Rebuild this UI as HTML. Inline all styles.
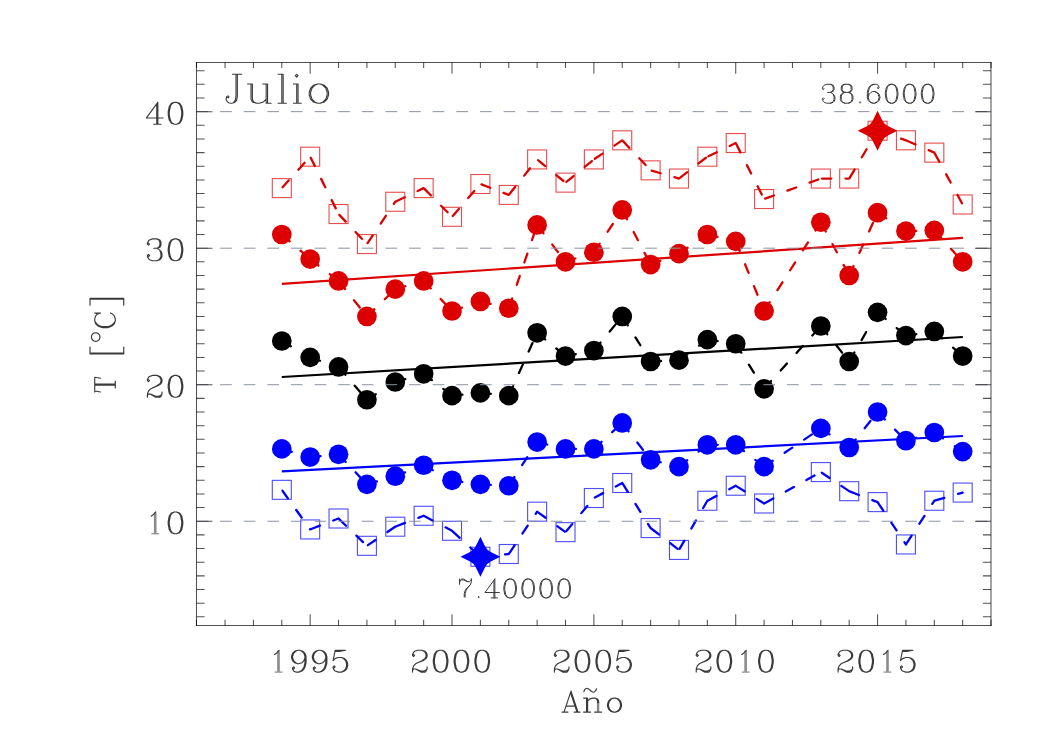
<!DOCTYPE html>
<html><head><meta charset="utf-8"><style>
html,body{margin:0;padding:0;background:#fff;width:1050px;height:750px;overflow:hidden}
svg{display:block}
text{font-family:"Liberation Serif",serif}
</style></head><body>
<svg width="1050" height="750" viewBox="0 0 1050 750">
<rect width="1050" height="750" fill="#ffffff"/>
<line x1="281.80" y1="188.10" x2="310.17" y2="156.70" stroke="#dc0000" stroke-width="2.3" stroke-linecap="round" stroke-dasharray="9.3 14.3" stroke-dashoffset="-1.15"/>
<line x1="310.17" y1="156.70" x2="338.54" y2="214.04" stroke="#dc0000" stroke-width="2.3" stroke-linecap="round" stroke-dasharray="9.3 14.3" stroke-dashoffset="-1.15"/>
<line x1="338.54" y1="214.04" x2="366.91" y2="244.08" stroke="#dc0000" stroke-width="2.3" stroke-linecap="round" stroke-dasharray="9.3 14.3" stroke-dashoffset="-1.15"/>
<line x1="366.91" y1="244.08" x2="395.28" y2="201.76" stroke="#dc0000" stroke-width="2.3" stroke-linecap="round" stroke-dasharray="9.3 14.3" stroke-dashoffset="-1.15"/>
<line x1="395.28" y1="201.76" x2="423.65" y2="188.10" stroke="#dc0000" stroke-width="2.3" stroke-linecap="round" stroke-dasharray="9.3 14.3" stroke-dashoffset="-1.15"/>
<line x1="423.65" y1="188.10" x2="452.02" y2="216.78" stroke="#dc0000" stroke-width="2.3" stroke-linecap="round" stroke-dasharray="9.3 14.3" stroke-dashoffset="-1.15"/>
<line x1="452.02" y1="216.78" x2="480.39" y2="184.01" stroke="#dc0000" stroke-width="2.3" stroke-linecap="round" stroke-dasharray="9.3 14.3" stroke-dashoffset="-1.15"/>
<line x1="480.39" y1="184.01" x2="508.76" y2="194.93" stroke="#dc0000" stroke-width="2.3" stroke-linecap="round" stroke-dasharray="9.3 14.3" stroke-dashoffset="-1.15"/>
<line x1="508.76" y1="194.93" x2="537.13" y2="159.43" stroke="#dc0000" stroke-width="2.3" stroke-linecap="round" stroke-dasharray="9.3 14.3" stroke-dashoffset="-1.15"/>
<line x1="537.13" y1="159.43" x2="565.50" y2="182.64" stroke="#dc0000" stroke-width="2.3" stroke-linecap="round" stroke-dasharray="9.3 14.3" stroke-dashoffset="-1.15"/>
<line x1="565.50" y1="182.64" x2="593.87" y2="159.43" stroke="#dc0000" stroke-width="2.3" stroke-linecap="round" stroke-dasharray="9.3 14.3" stroke-dashoffset="-1.15"/>
<line x1="593.87" y1="159.43" x2="622.24" y2="140.32" stroke="#dc0000" stroke-width="2.3" stroke-linecap="round" stroke-dasharray="9.3 14.3" stroke-dashoffset="-1.15"/>
<line x1="622.24" y1="140.32" x2="650.61" y2="170.36" stroke="#dc0000" stroke-width="2.3" stroke-linecap="round" stroke-dasharray="9.3 14.3" stroke-dashoffset="-1.15"/>
<line x1="650.61" y1="170.36" x2="678.98" y2="178.55" stroke="#dc0000" stroke-width="2.3" stroke-linecap="round" stroke-dasharray="9.3 14.3" stroke-dashoffset="-1.15"/>
<line x1="678.98" y1="178.55" x2="707.35" y2="156.70" stroke="#dc0000" stroke-width="2.3" stroke-linecap="round" stroke-dasharray="9.3 14.3" stroke-dashoffset="-1.15"/>
<line x1="707.35" y1="156.70" x2="735.72" y2="143.05" stroke="#dc0000" stroke-width="2.3" stroke-linecap="round" stroke-dasharray="9.3 14.3" stroke-dashoffset="-1.15"/>
<line x1="735.72" y1="143.05" x2="764.09" y2="199.03" stroke="#dc0000" stroke-width="2.3" stroke-linecap="round" stroke-dasharray="9.3 14.3" stroke-dashoffset="-1.15"/>
<line x1="764.09" y1="199.03" x2="820.83" y2="178.55" stroke="#dc0000" stroke-width="2.3" stroke-linecap="round" stroke-dasharray="9.3 14.3" stroke-dashoffset="-1.15"/>
<line x1="820.83" y1="178.55" x2="849.20" y2="178.55" stroke="#dc0000" stroke-width="2.3" stroke-linecap="round" stroke-dasharray="9.3 14.3" stroke-dashoffset="-1.15"/>
<line x1="849.20" y1="178.55" x2="877.57" y2="130.76" stroke="#dc0000" stroke-width="2.3" stroke-linecap="round" stroke-dasharray="9.3 14.3" stroke-dashoffset="-1.15"/>
<line x1="877.57" y1="130.76" x2="905.94" y2="140.32" stroke="#dc0000" stroke-width="2.3" stroke-linecap="round" stroke-dasharray="9.3 14.3" stroke-dashoffset="-1.15"/>
<line x1="905.94" y1="140.32" x2="934.31" y2="152.61" stroke="#dc0000" stroke-width="2.3" stroke-linecap="round" stroke-dasharray="9.3 14.3" stroke-dashoffset="-1.15"/>
<line x1="934.31" y1="152.61" x2="962.68" y2="204.49" stroke="#dc0000" stroke-width="2.3" stroke-linecap="round" stroke-dasharray="9.3 14.3" stroke-dashoffset="-1.15"/>
<rect x="272.30" y="178.60" width="19" height="19" fill="none" stroke="#dc0000" stroke-width="1.1" stroke-opacity="0.7"/>
<rect x="300.67" y="147.20" width="19" height="19" fill="none" stroke="#dc0000" stroke-width="1.1" stroke-opacity="0.7"/>
<rect x="329.04" y="204.54" width="19" height="19" fill="none" stroke="#dc0000" stroke-width="1.1" stroke-opacity="0.7"/>
<rect x="357.41" y="234.58" width="19" height="19" fill="none" stroke="#dc0000" stroke-width="1.1" stroke-opacity="0.7"/>
<rect x="385.78" y="192.26" width="19" height="19" fill="none" stroke="#dc0000" stroke-width="1.1" stroke-opacity="0.7"/>
<rect x="414.15" y="178.60" width="19" height="19" fill="none" stroke="#dc0000" stroke-width="1.1" stroke-opacity="0.7"/>
<rect x="442.52" y="207.28" width="19" height="19" fill="none" stroke="#dc0000" stroke-width="1.1" stroke-opacity="0.7"/>
<rect x="470.89" y="174.51" width="19" height="19" fill="none" stroke="#dc0000" stroke-width="1.1" stroke-opacity="0.7"/>
<rect x="499.26" y="185.43" width="19" height="19" fill="none" stroke="#dc0000" stroke-width="1.1" stroke-opacity="0.7"/>
<rect x="527.63" y="149.93" width="19" height="19" fill="none" stroke="#dc0000" stroke-width="1.1" stroke-opacity="0.7"/>
<rect x="556.00" y="173.14" width="19" height="19" fill="none" stroke="#dc0000" stroke-width="1.1" stroke-opacity="0.7"/>
<rect x="584.37" y="149.93" width="19" height="19" fill="none" stroke="#dc0000" stroke-width="1.1" stroke-opacity="0.7"/>
<rect x="612.74" y="130.82" width="19" height="19" fill="none" stroke="#dc0000" stroke-width="1.1" stroke-opacity="0.7"/>
<rect x="641.11" y="160.86" width="19" height="19" fill="none" stroke="#dc0000" stroke-width="1.1" stroke-opacity="0.7"/>
<rect x="669.48" y="169.05" width="19" height="19" fill="none" stroke="#dc0000" stroke-width="1.1" stroke-opacity="0.7"/>
<rect x="697.85" y="147.20" width="19" height="19" fill="none" stroke="#dc0000" stroke-width="1.1" stroke-opacity="0.7"/>
<rect x="726.22" y="133.55" width="19" height="19" fill="none" stroke="#dc0000" stroke-width="1.1" stroke-opacity="0.7"/>
<rect x="754.59" y="189.53" width="19" height="19" fill="none" stroke="#dc0000" stroke-width="1.1" stroke-opacity="0.7"/>
<rect x="811.33" y="169.05" width="19" height="19" fill="none" stroke="#dc0000" stroke-width="1.1" stroke-opacity="0.7"/>
<rect x="839.70" y="169.05" width="19" height="19" fill="none" stroke="#dc0000" stroke-width="1.1" stroke-opacity="0.7"/>
<rect x="868.07" y="121.26" width="19" height="19" fill="none" stroke="#dc0000" stroke-width="1.1" stroke-opacity="0.7"/>
<rect x="896.44" y="130.82" width="19" height="19" fill="none" stroke="#dc0000" stroke-width="1.1" stroke-opacity="0.7"/>
<rect x="924.81" y="143.11" width="19" height="19" fill="none" stroke="#dc0000" stroke-width="1.1" stroke-opacity="0.7"/>
<rect x="953.18" y="194.99" width="19" height="19" fill="none" stroke="#dc0000" stroke-width="1.1" stroke-opacity="0.7"/>
<line x1="281.80" y1="234.52" x2="310.17" y2="259.10" stroke="#dc0000" stroke-width="2.3" stroke-linecap="round" stroke-dasharray="9.3 14.3" stroke-dashoffset="-1.15"/>
<line x1="310.17" y1="259.10" x2="338.54" y2="280.94" stroke="#dc0000" stroke-width="2.3" stroke-linecap="round" stroke-dasharray="9.3 14.3" stroke-dashoffset="-1.15"/>
<line x1="338.54" y1="280.94" x2="366.91" y2="316.44" stroke="#dc0000" stroke-width="2.3" stroke-linecap="round" stroke-dasharray="9.3 14.3" stroke-dashoffset="-1.15"/>
<line x1="366.91" y1="316.44" x2="395.28" y2="289.14" stroke="#dc0000" stroke-width="2.3" stroke-linecap="round" stroke-dasharray="9.3 14.3" stroke-dashoffset="-1.15"/>
<line x1="395.28" y1="289.14" x2="423.65" y2="280.94" stroke="#dc0000" stroke-width="2.3" stroke-linecap="round" stroke-dasharray="9.3 14.3" stroke-dashoffset="-1.15"/>
<line x1="423.65" y1="280.94" x2="452.02" y2="310.98" stroke="#dc0000" stroke-width="2.3" stroke-linecap="round" stroke-dasharray="9.3 14.3" stroke-dashoffset="-1.15"/>
<line x1="452.02" y1="310.98" x2="480.39" y2="301.42" stroke="#dc0000" stroke-width="2.3" stroke-linecap="round" stroke-dasharray="9.3 14.3" stroke-dashoffset="-1.15"/>
<line x1="480.39" y1="301.42" x2="508.76" y2="308.25" stroke="#dc0000" stroke-width="2.3" stroke-linecap="round" stroke-dasharray="9.3 14.3" stroke-dashoffset="-1.15"/>
<line x1="508.76" y1="308.25" x2="537.13" y2="224.97" stroke="#dc0000" stroke-width="2.3" stroke-linecap="round" stroke-dasharray="9.3 14.3" stroke-dashoffset="-1.15"/>
<line x1="537.13" y1="224.97" x2="565.50" y2="261.83" stroke="#dc0000" stroke-width="2.3" stroke-linecap="round" stroke-dasharray="9.3 14.3" stroke-dashoffset="-1.15"/>
<line x1="565.50" y1="261.83" x2="593.87" y2="252.27" stroke="#dc0000" stroke-width="2.3" stroke-linecap="round" stroke-dasharray="9.3 14.3" stroke-dashoffset="-1.15"/>
<line x1="593.87" y1="252.27" x2="622.24" y2="209.95" stroke="#dc0000" stroke-width="2.3" stroke-linecap="round" stroke-dasharray="9.3 14.3" stroke-dashoffset="-1.15"/>
<line x1="622.24" y1="209.95" x2="650.61" y2="264.56" stroke="#dc0000" stroke-width="2.3" stroke-linecap="round" stroke-dasharray="9.3 14.3" stroke-dashoffset="-1.15"/>
<line x1="650.61" y1="264.56" x2="678.98" y2="253.64" stroke="#dc0000" stroke-width="2.3" stroke-linecap="round" stroke-dasharray="9.3 14.3" stroke-dashoffset="-1.15"/>
<line x1="678.98" y1="253.64" x2="707.35" y2="234.52" stroke="#dc0000" stroke-width="2.3" stroke-linecap="round" stroke-dasharray="9.3 14.3" stroke-dashoffset="-1.15"/>
<line x1="707.35" y1="234.52" x2="735.72" y2="241.35" stroke="#dc0000" stroke-width="2.3" stroke-linecap="round" stroke-dasharray="9.3 14.3" stroke-dashoffset="-1.15"/>
<line x1="735.72" y1="241.35" x2="764.09" y2="310.98" stroke="#dc0000" stroke-width="2.3" stroke-linecap="round" stroke-dasharray="9.3 14.3" stroke-dashoffset="-1.15"/>
<line x1="764.09" y1="310.98" x2="820.83" y2="222.24" stroke="#dc0000" stroke-width="2.3" stroke-linecap="round" stroke-dasharray="9.3 14.3" stroke-dashoffset="-1.15"/>
<line x1="820.83" y1="222.24" x2="849.20" y2="275.48" stroke="#dc0000" stroke-width="2.3" stroke-linecap="round" stroke-dasharray="9.3 14.3" stroke-dashoffset="-1.15"/>
<line x1="849.20" y1="275.48" x2="877.57" y2="212.68" stroke="#dc0000" stroke-width="2.3" stroke-linecap="round" stroke-dasharray="9.3 14.3" stroke-dashoffset="-1.15"/>
<line x1="877.57" y1="212.68" x2="905.94" y2="231.11" stroke="#dc0000" stroke-width="2.3" stroke-linecap="round" stroke-dasharray="9.3 14.3" stroke-dashoffset="-1.15"/>
<line x1="905.94" y1="231.11" x2="934.31" y2="230.43" stroke="#dc0000" stroke-width="2.3" stroke-linecap="round" stroke-dasharray="9.3 14.3" stroke-dashoffset="-1.15"/>
<line x1="934.31" y1="230.43" x2="962.68" y2="261.83" stroke="#dc0000" stroke-width="2.3" stroke-linecap="round" stroke-dasharray="9.3 14.3" stroke-dashoffset="-1.15"/>
<circle cx="281.80" cy="234.52" r="9.85" fill="#dc0000"/>
<circle cx="310.17" cy="259.10" r="9.85" fill="#dc0000"/>
<circle cx="338.54" cy="280.94" r="9.85" fill="#dc0000"/>
<circle cx="366.91" cy="316.44" r="9.85" fill="#dc0000"/>
<circle cx="395.28" cy="289.14" r="9.85" fill="#dc0000"/>
<circle cx="423.65" cy="280.94" r="9.85" fill="#dc0000"/>
<circle cx="452.02" cy="310.98" r="9.85" fill="#dc0000"/>
<circle cx="480.39" cy="301.42" r="9.85" fill="#dc0000"/>
<circle cx="508.76" cy="308.25" r="9.85" fill="#dc0000"/>
<circle cx="537.13" cy="224.97" r="9.85" fill="#dc0000"/>
<circle cx="565.50" cy="261.83" r="9.85" fill="#dc0000"/>
<circle cx="593.87" cy="252.27" r="9.85" fill="#dc0000"/>
<circle cx="622.24" cy="209.95" r="9.85" fill="#dc0000"/>
<circle cx="650.61" cy="264.56" r="9.85" fill="#dc0000"/>
<circle cx="678.98" cy="253.64" r="9.85" fill="#dc0000"/>
<circle cx="707.35" cy="234.52" r="9.85" fill="#dc0000"/>
<circle cx="735.72" cy="241.35" r="9.85" fill="#dc0000"/>
<circle cx="764.09" cy="310.98" r="9.85" fill="#dc0000"/>
<circle cx="820.83" cy="222.24" r="9.85" fill="#dc0000"/>
<circle cx="849.20" cy="275.48" r="9.85" fill="#dc0000"/>
<circle cx="877.57" cy="212.68" r="9.85" fill="#dc0000"/>
<circle cx="905.94" cy="231.11" r="9.85" fill="#dc0000"/>
<circle cx="934.31" cy="230.43" r="9.85" fill="#dc0000"/>
<circle cx="962.68" cy="261.83" r="9.85" fill="#dc0000"/>
<line x1="281.80" y1="341.02" x2="310.17" y2="357.40" stroke="#000000" stroke-width="2.3" stroke-linecap="round" stroke-dasharray="9.3 14.3" stroke-dashoffset="-1.15"/>
<line x1="310.17" y1="357.40" x2="338.54" y2="366.96" stroke="#000000" stroke-width="2.3" stroke-linecap="round" stroke-dasharray="9.3 14.3" stroke-dashoffset="-1.15"/>
<line x1="338.54" y1="366.96" x2="366.91" y2="399.73" stroke="#000000" stroke-width="2.3" stroke-linecap="round" stroke-dasharray="9.3 14.3" stroke-dashoffset="-1.15"/>
<line x1="366.91" y1="399.73" x2="395.28" y2="381.98" stroke="#000000" stroke-width="2.3" stroke-linecap="round" stroke-dasharray="9.3 14.3" stroke-dashoffset="-1.15"/>
<line x1="395.28" y1="381.98" x2="423.65" y2="373.78" stroke="#000000" stroke-width="2.3" stroke-linecap="round" stroke-dasharray="9.3 14.3" stroke-dashoffset="-1.15"/>
<line x1="423.65" y1="373.78" x2="452.02" y2="395.63" stroke="#000000" stroke-width="2.3" stroke-linecap="round" stroke-dasharray="9.3 14.3" stroke-dashoffset="-1.15"/>
<line x1="452.02" y1="395.63" x2="480.39" y2="392.90" stroke="#000000" stroke-width="2.3" stroke-linecap="round" stroke-dasharray="9.3 14.3" stroke-dashoffset="-1.15"/>
<line x1="480.39" y1="392.90" x2="508.76" y2="395.63" stroke="#000000" stroke-width="2.3" stroke-linecap="round" stroke-dasharray="9.3 14.3" stroke-dashoffset="-1.15"/>
<line x1="508.76" y1="395.63" x2="537.13" y2="332.83" stroke="#000000" stroke-width="2.3" stroke-linecap="round" stroke-dasharray="9.3 14.3" stroke-dashoffset="-1.15"/>
<line x1="537.13" y1="332.83" x2="565.50" y2="356.04" stroke="#000000" stroke-width="2.3" stroke-linecap="round" stroke-dasharray="9.3 14.3" stroke-dashoffset="-1.15"/>
<line x1="565.50" y1="356.04" x2="593.87" y2="350.57" stroke="#000000" stroke-width="2.3" stroke-linecap="round" stroke-dasharray="9.3 14.3" stroke-dashoffset="-1.15"/>
<line x1="593.87" y1="350.57" x2="622.24" y2="316.44" stroke="#000000" stroke-width="2.3" stroke-linecap="round" stroke-dasharray="9.3 14.3" stroke-dashoffset="-1.15"/>
<line x1="622.24" y1="316.44" x2="650.61" y2="361.50" stroke="#000000" stroke-width="2.3" stroke-linecap="round" stroke-dasharray="9.3 14.3" stroke-dashoffset="-1.15"/>
<line x1="650.61" y1="361.50" x2="678.98" y2="360.13" stroke="#000000" stroke-width="2.3" stroke-linecap="round" stroke-dasharray="9.3 14.3" stroke-dashoffset="-1.15"/>
<line x1="678.98" y1="360.13" x2="707.35" y2="339.65" stroke="#000000" stroke-width="2.3" stroke-linecap="round" stroke-dasharray="9.3 14.3" stroke-dashoffset="-1.15"/>
<line x1="707.35" y1="339.65" x2="735.72" y2="343.75" stroke="#000000" stroke-width="2.3" stroke-linecap="round" stroke-dasharray="9.3 14.3" stroke-dashoffset="-1.15"/>
<line x1="735.72" y1="343.75" x2="764.09" y2="388.80" stroke="#000000" stroke-width="2.3" stroke-linecap="round" stroke-dasharray="9.3 14.3" stroke-dashoffset="-1.15"/>
<line x1="764.09" y1="388.80" x2="820.83" y2="326.00" stroke="#000000" stroke-width="2.3" stroke-linecap="round" stroke-dasharray="9.3 14.3" stroke-dashoffset="-1.15"/>
<line x1="820.83" y1="326.00" x2="849.20" y2="361.50" stroke="#000000" stroke-width="2.3" stroke-linecap="round" stroke-dasharray="9.3 14.3" stroke-dashoffset="-1.15"/>
<line x1="849.20" y1="361.50" x2="877.57" y2="312.35" stroke="#000000" stroke-width="2.3" stroke-linecap="round" stroke-dasharray="9.3 14.3" stroke-dashoffset="-1.15"/>
<line x1="877.57" y1="312.35" x2="905.94" y2="335.56" stroke="#000000" stroke-width="2.3" stroke-linecap="round" stroke-dasharray="9.3 14.3" stroke-dashoffset="-1.15"/>
<line x1="905.94" y1="335.56" x2="934.31" y2="331.46" stroke="#000000" stroke-width="2.3" stroke-linecap="round" stroke-dasharray="9.3 14.3" stroke-dashoffset="-1.15"/>
<line x1="934.31" y1="331.46" x2="962.68" y2="356.04" stroke="#000000" stroke-width="2.3" stroke-linecap="round" stroke-dasharray="9.3 14.3" stroke-dashoffset="-1.15"/>
<circle cx="281.80" cy="341.02" r="9.85" fill="#000000"/>
<circle cx="310.17" cy="357.40" r="9.85" fill="#000000"/>
<circle cx="338.54" cy="366.96" r="9.85" fill="#000000"/>
<circle cx="366.91" cy="399.73" r="9.85" fill="#000000"/>
<circle cx="395.28" cy="381.98" r="9.85" fill="#000000"/>
<circle cx="423.65" cy="373.78" r="9.85" fill="#000000"/>
<circle cx="452.02" cy="395.63" r="9.85" fill="#000000"/>
<circle cx="480.39" cy="392.90" r="9.85" fill="#000000"/>
<circle cx="508.76" cy="395.63" r="9.85" fill="#000000"/>
<circle cx="537.13" cy="332.83" r="9.85" fill="#000000"/>
<circle cx="565.50" cy="356.04" r="9.85" fill="#000000"/>
<circle cx="593.87" cy="350.57" r="9.85" fill="#000000"/>
<circle cx="622.24" cy="316.44" r="9.85" fill="#000000"/>
<circle cx="650.61" cy="361.50" r="9.85" fill="#000000"/>
<circle cx="678.98" cy="360.13" r="9.85" fill="#000000"/>
<circle cx="707.35" cy="339.65" r="9.85" fill="#000000"/>
<circle cx="735.72" cy="343.75" r="9.85" fill="#000000"/>
<circle cx="764.09" cy="388.80" r="9.85" fill="#000000"/>
<circle cx="820.83" cy="326.00" r="9.85" fill="#000000"/>
<circle cx="849.20" cy="361.50" r="9.85" fill="#000000"/>
<circle cx="877.57" cy="312.35" r="9.85" fill="#000000"/>
<circle cx="905.94" cy="335.56" r="9.85" fill="#000000"/>
<circle cx="934.31" cy="331.46" r="9.85" fill="#000000"/>
<circle cx="962.68" cy="356.04" r="9.85" fill="#000000"/>
<line x1="281.80" y1="448.88" x2="310.17" y2="457.07" stroke="#0000ff" stroke-width="2.3" stroke-linecap="round" stroke-dasharray="9.3 14.3" stroke-dashoffset="-1.15"/>
<line x1="310.17" y1="457.07" x2="338.54" y2="454.34" stroke="#0000ff" stroke-width="2.3" stroke-linecap="round" stroke-dasharray="9.3 14.3" stroke-dashoffset="-1.15"/>
<line x1="338.54" y1="454.34" x2="366.91" y2="484.37" stroke="#0000ff" stroke-width="2.3" stroke-linecap="round" stroke-dasharray="9.3 14.3" stroke-dashoffset="-1.15"/>
<line x1="366.91" y1="484.37" x2="395.28" y2="476.18" stroke="#0000ff" stroke-width="2.3" stroke-linecap="round" stroke-dasharray="9.3 14.3" stroke-dashoffset="-1.15"/>
<line x1="395.28" y1="476.18" x2="423.65" y2="465.26" stroke="#0000ff" stroke-width="2.3" stroke-linecap="round" stroke-dasharray="9.3 14.3" stroke-dashoffset="-1.15"/>
<line x1="423.65" y1="465.26" x2="452.02" y2="480.28" stroke="#0000ff" stroke-width="2.3" stroke-linecap="round" stroke-dasharray="9.3 14.3" stroke-dashoffset="-1.15"/>
<line x1="452.02" y1="480.28" x2="480.39" y2="484.37" stroke="#0000ff" stroke-width="2.3" stroke-linecap="round" stroke-dasharray="9.3 14.3" stroke-dashoffset="-1.15"/>
<line x1="480.39" y1="484.37" x2="508.76" y2="485.74" stroke="#0000ff" stroke-width="2.3" stroke-linecap="round" stroke-dasharray="9.3 14.3" stroke-dashoffset="-1.15"/>
<line x1="508.76" y1="485.74" x2="537.13" y2="442.05" stroke="#0000ff" stroke-width="2.3" stroke-linecap="round" stroke-dasharray="9.3 14.3" stroke-dashoffset="-1.15"/>
<line x1="537.13" y1="442.05" x2="565.50" y2="448.88" stroke="#0000ff" stroke-width="2.3" stroke-linecap="round" stroke-dasharray="9.3 14.3" stroke-dashoffset="-1.15"/>
<line x1="565.50" y1="448.88" x2="593.87" y2="448.88" stroke="#0000ff" stroke-width="2.3" stroke-linecap="round" stroke-dasharray="9.3 14.3" stroke-dashoffset="-1.15"/>
<line x1="593.87" y1="448.88" x2="622.24" y2="422.94" stroke="#0000ff" stroke-width="2.3" stroke-linecap="round" stroke-dasharray="9.3 14.3" stroke-dashoffset="-1.15"/>
<line x1="622.24" y1="422.94" x2="650.61" y2="459.80" stroke="#0000ff" stroke-width="2.3" stroke-linecap="round" stroke-dasharray="9.3 14.3" stroke-dashoffset="-1.15"/>
<line x1="650.61" y1="459.80" x2="678.98" y2="466.63" stroke="#0000ff" stroke-width="2.3" stroke-linecap="round" stroke-dasharray="9.3 14.3" stroke-dashoffset="-1.15"/>
<line x1="678.98" y1="466.63" x2="707.35" y2="444.78" stroke="#0000ff" stroke-width="2.3" stroke-linecap="round" stroke-dasharray="9.3 14.3" stroke-dashoffset="-1.15"/>
<line x1="707.35" y1="444.78" x2="735.72" y2="444.78" stroke="#0000ff" stroke-width="2.3" stroke-linecap="round" stroke-dasharray="9.3 14.3" stroke-dashoffset="-1.15"/>
<line x1="735.72" y1="444.78" x2="764.09" y2="466.63" stroke="#0000ff" stroke-width="2.3" stroke-linecap="round" stroke-dasharray="9.3 14.3" stroke-dashoffset="-1.15"/>
<line x1="764.09" y1="466.63" x2="820.83" y2="428.40" stroke="#0000ff" stroke-width="2.3" stroke-linecap="round" stroke-dasharray="9.3 14.3" stroke-dashoffset="-1.15"/>
<line x1="820.83" y1="428.40" x2="849.20" y2="447.51" stroke="#0000ff" stroke-width="2.3" stroke-linecap="round" stroke-dasharray="9.3 14.3" stroke-dashoffset="-1.15"/>
<line x1="849.20" y1="447.51" x2="877.57" y2="412.01" stroke="#0000ff" stroke-width="2.3" stroke-linecap="round" stroke-dasharray="9.3 14.3" stroke-dashoffset="-1.15"/>
<line x1="877.57" y1="412.01" x2="905.94" y2="440.68" stroke="#0000ff" stroke-width="2.3" stroke-linecap="round" stroke-dasharray="9.3 14.3" stroke-dashoffset="-1.15"/>
<line x1="905.94" y1="440.68" x2="934.31" y2="432.49" stroke="#0000ff" stroke-width="2.3" stroke-linecap="round" stroke-dasharray="9.3 14.3" stroke-dashoffset="-1.15"/>
<line x1="934.31" y1="432.49" x2="962.68" y2="451.61" stroke="#0000ff" stroke-width="2.3" stroke-linecap="round" stroke-dasharray="9.3 14.3" stroke-dashoffset="-1.15"/>
<circle cx="281.80" cy="448.88" r="9.85" fill="#0000ff"/>
<circle cx="310.17" cy="457.07" r="9.85" fill="#0000ff"/>
<circle cx="338.54" cy="454.34" r="9.85" fill="#0000ff"/>
<circle cx="366.91" cy="484.37" r="9.85" fill="#0000ff"/>
<circle cx="395.28" cy="476.18" r="9.85" fill="#0000ff"/>
<circle cx="423.65" cy="465.26" r="9.85" fill="#0000ff"/>
<circle cx="452.02" cy="480.28" r="9.85" fill="#0000ff"/>
<circle cx="480.39" cy="484.37" r="9.85" fill="#0000ff"/>
<circle cx="508.76" cy="485.74" r="9.85" fill="#0000ff"/>
<circle cx="537.13" cy="442.05" r="9.85" fill="#0000ff"/>
<circle cx="565.50" cy="448.88" r="9.85" fill="#0000ff"/>
<circle cx="593.87" cy="448.88" r="9.85" fill="#0000ff"/>
<circle cx="622.24" cy="422.94" r="9.85" fill="#0000ff"/>
<circle cx="650.61" cy="459.80" r="9.85" fill="#0000ff"/>
<circle cx="678.98" cy="466.63" r="9.85" fill="#0000ff"/>
<circle cx="707.35" cy="444.78" r="9.85" fill="#0000ff"/>
<circle cx="735.72" cy="444.78" r="9.85" fill="#0000ff"/>
<circle cx="764.09" cy="466.63" r="9.85" fill="#0000ff"/>
<circle cx="820.83" cy="428.40" r="9.85" fill="#0000ff"/>
<circle cx="849.20" cy="447.51" r="9.85" fill="#0000ff"/>
<circle cx="877.57" cy="412.01" r="9.85" fill="#0000ff"/>
<circle cx="905.94" cy="440.68" r="9.85" fill="#0000ff"/>
<circle cx="934.31" cy="432.49" r="9.85" fill="#0000ff"/>
<circle cx="962.68" cy="451.61" r="9.85" fill="#0000ff"/>
<line x1="281.80" y1="489.84" x2="310.17" y2="529.43" stroke="#0000ff" stroke-width="2.3" stroke-linecap="round" stroke-dasharray="9.3 14.3" stroke-dashoffset="-1.15"/>
<line x1="310.17" y1="529.43" x2="338.54" y2="518.51" stroke="#0000ff" stroke-width="2.3" stroke-linecap="round" stroke-dasharray="9.3 14.3" stroke-dashoffset="-1.15"/>
<line x1="338.54" y1="518.51" x2="366.91" y2="545.81" stroke="#0000ff" stroke-width="2.3" stroke-linecap="round" stroke-dasharray="9.3 14.3" stroke-dashoffset="-1.15"/>
<line x1="366.91" y1="545.81" x2="395.28" y2="526.70" stroke="#0000ff" stroke-width="2.3" stroke-linecap="round" stroke-dasharray="9.3 14.3" stroke-dashoffset="-1.15"/>
<line x1="395.28" y1="526.70" x2="423.65" y2="515.78" stroke="#0000ff" stroke-width="2.3" stroke-linecap="round" stroke-dasharray="9.3 14.3" stroke-dashoffset="-1.15"/>
<line x1="423.65" y1="515.78" x2="452.02" y2="530.79" stroke="#0000ff" stroke-width="2.3" stroke-linecap="round" stroke-dasharray="9.3 14.3" stroke-dashoffset="-1.15"/>
<line x1="452.02" y1="530.79" x2="480.39" y2="556.74" stroke="#0000ff" stroke-width="2.3" stroke-linecap="round" stroke-dasharray="9.3 14.3" stroke-dashoffset="-1.15"/>
<line x1="480.39" y1="556.74" x2="508.76" y2="554.00" stroke="#0000ff" stroke-width="2.3" stroke-linecap="round" stroke-dasharray="9.3 14.3" stroke-dashoffset="-1.15"/>
<line x1="508.76" y1="554.00" x2="537.13" y2="511.68" stroke="#0000ff" stroke-width="2.3" stroke-linecap="round" stroke-dasharray="9.3 14.3" stroke-dashoffset="-1.15"/>
<line x1="537.13" y1="511.68" x2="565.50" y2="532.16" stroke="#0000ff" stroke-width="2.3" stroke-linecap="round" stroke-dasharray="9.3 14.3" stroke-dashoffset="-1.15"/>
<line x1="565.50" y1="532.16" x2="593.87" y2="498.03" stroke="#0000ff" stroke-width="2.3" stroke-linecap="round" stroke-dasharray="9.3 14.3" stroke-dashoffset="-1.15"/>
<line x1="593.87" y1="498.03" x2="622.24" y2="483.01" stroke="#0000ff" stroke-width="2.3" stroke-linecap="round" stroke-dasharray="9.3 14.3" stroke-dashoffset="-1.15"/>
<line x1="622.24" y1="483.01" x2="650.61" y2="528.06" stroke="#0000ff" stroke-width="2.3" stroke-linecap="round" stroke-dasharray="9.3 14.3" stroke-dashoffset="-1.15"/>
<line x1="650.61" y1="528.06" x2="678.98" y2="549.91" stroke="#0000ff" stroke-width="2.3" stroke-linecap="round" stroke-dasharray="9.3 14.3" stroke-dashoffset="-1.15"/>
<line x1="678.98" y1="549.91" x2="707.35" y2="500.76" stroke="#0000ff" stroke-width="2.3" stroke-linecap="round" stroke-dasharray="9.3 14.3" stroke-dashoffset="-1.15"/>
<line x1="707.35" y1="500.76" x2="735.72" y2="485.74" stroke="#0000ff" stroke-width="2.3" stroke-linecap="round" stroke-dasharray="9.3 14.3" stroke-dashoffset="-1.15"/>
<line x1="735.72" y1="485.74" x2="764.09" y2="503.49" stroke="#0000ff" stroke-width="2.3" stroke-linecap="round" stroke-dasharray="9.3 14.3" stroke-dashoffset="-1.15"/>
<line x1="764.09" y1="503.49" x2="820.83" y2="472.09" stroke="#0000ff" stroke-width="2.3" stroke-linecap="round" stroke-dasharray="9.3 14.3" stroke-dashoffset="-1.15"/>
<line x1="820.83" y1="472.09" x2="849.20" y2="491.20" stroke="#0000ff" stroke-width="2.3" stroke-linecap="round" stroke-dasharray="9.3 14.3" stroke-dashoffset="-1.15"/>
<line x1="849.20" y1="491.20" x2="877.57" y2="502.12" stroke="#0000ff" stroke-width="2.3" stroke-linecap="round" stroke-dasharray="9.3 14.3" stroke-dashoffset="-1.15"/>
<line x1="877.57" y1="502.12" x2="905.94" y2="544.45" stroke="#0000ff" stroke-width="2.3" stroke-linecap="round" stroke-dasharray="9.3 14.3" stroke-dashoffset="-1.15"/>
<line x1="905.94" y1="544.45" x2="934.31" y2="500.76" stroke="#0000ff" stroke-width="2.3" stroke-linecap="round" stroke-dasharray="9.3 14.3" stroke-dashoffset="-1.15"/>
<line x1="934.31" y1="500.76" x2="962.68" y2="492.57" stroke="#0000ff" stroke-width="2.3" stroke-linecap="round" stroke-dasharray="9.3 14.3" stroke-dashoffset="-1.15"/>
<rect x="272.30" y="480.34" width="19" height="19" fill="none" stroke="#0000ff" stroke-width="1.1" stroke-opacity="0.7"/>
<rect x="300.67" y="519.93" width="19" height="19" fill="none" stroke="#0000ff" stroke-width="1.1" stroke-opacity="0.7"/>
<rect x="329.04" y="509.01" width="19" height="19" fill="none" stroke="#0000ff" stroke-width="1.1" stroke-opacity="0.7"/>
<rect x="357.41" y="536.31" width="19" height="19" fill="none" stroke="#0000ff" stroke-width="1.1" stroke-opacity="0.7"/>
<rect x="385.78" y="517.20" width="19" height="19" fill="none" stroke="#0000ff" stroke-width="1.1" stroke-opacity="0.7"/>
<rect x="414.15" y="506.28" width="19" height="19" fill="none" stroke="#0000ff" stroke-width="1.1" stroke-opacity="0.7"/>
<rect x="442.52" y="521.29" width="19" height="19" fill="none" stroke="#0000ff" stroke-width="1.1" stroke-opacity="0.7"/>
<rect x="470.89" y="547.24" width="19" height="19" fill="none" stroke="#0000ff" stroke-width="1.1" stroke-opacity="0.7"/>
<rect x="499.26" y="544.50" width="19" height="19" fill="none" stroke="#0000ff" stroke-width="1.1" stroke-opacity="0.7"/>
<rect x="527.63" y="502.18" width="19" height="19" fill="none" stroke="#0000ff" stroke-width="1.1" stroke-opacity="0.7"/>
<rect x="556.00" y="522.66" width="19" height="19" fill="none" stroke="#0000ff" stroke-width="1.1" stroke-opacity="0.7"/>
<rect x="584.37" y="488.53" width="19" height="19" fill="none" stroke="#0000ff" stroke-width="1.1" stroke-opacity="0.7"/>
<rect x="612.74" y="473.51" width="19" height="19" fill="none" stroke="#0000ff" stroke-width="1.1" stroke-opacity="0.7"/>
<rect x="641.11" y="518.56" width="19" height="19" fill="none" stroke="#0000ff" stroke-width="1.1" stroke-opacity="0.7"/>
<rect x="669.48" y="540.41" width="19" height="19" fill="none" stroke="#0000ff" stroke-width="1.1" stroke-opacity="0.7"/>
<rect x="697.85" y="491.26" width="19" height="19" fill="none" stroke="#0000ff" stroke-width="1.1" stroke-opacity="0.7"/>
<rect x="726.22" y="476.24" width="19" height="19" fill="none" stroke="#0000ff" stroke-width="1.1" stroke-opacity="0.7"/>
<rect x="754.59" y="493.99" width="19" height="19" fill="none" stroke="#0000ff" stroke-width="1.1" stroke-opacity="0.7"/>
<rect x="811.33" y="462.59" width="19" height="19" fill="none" stroke="#0000ff" stroke-width="1.1" stroke-opacity="0.7"/>
<rect x="839.70" y="481.70" width="19" height="19" fill="none" stroke="#0000ff" stroke-width="1.1" stroke-opacity="0.7"/>
<rect x="868.07" y="492.62" width="19" height="19" fill="none" stroke="#0000ff" stroke-width="1.1" stroke-opacity="0.7"/>
<rect x="896.44" y="534.95" width="19" height="19" fill="none" stroke="#0000ff" stroke-width="1.1" stroke-opacity="0.7"/>
<rect x="924.81" y="491.26" width="19" height="19" fill="none" stroke="#0000ff" stroke-width="1.1" stroke-opacity="0.7"/>
<rect x="953.18" y="483.07" width="19" height="19" fill="none" stroke="#0000ff" stroke-width="1.1" stroke-opacity="0.7"/>
<line x1="281.80" y1="283.9" x2="962.88" y2="237.9" stroke="#dc0000" stroke-width="2.2"/>
<line x1="281.80" y1="377.0" x2="962.88" y2="337.0" stroke="#000000" stroke-width="2.2"/>
<line x1="281.80" y1="471.4" x2="962.88" y2="436.0" stroke="#0000ff" stroke-width="2.2"/>
<path d="M877.57 110.86L882.36 120.40Q884.22 124.11 887.93 125.98L897.47 130.76L887.93 135.55Q884.22 137.41 882.36 141.12L877.57 150.66L872.78 141.12Q870.92 137.41 867.21 135.55L857.67 130.76L867.21 125.98Q870.92 124.11 872.78 120.40L877.57 110.86Z" fill="#dc0000"/>
<path d="M480.39 536.84L485.18 546.38Q487.04 550.09 490.75 551.95L500.29 556.74L490.75 561.52Q487.04 563.38 485.18 567.09L480.39 576.63L475.60 567.09Q473.74 563.38 470.03 561.52L460.49 556.74L470.03 551.95Q473.74 550.09 475.60 546.38L480.39 536.84Z" fill="#0000ff"/>
<line x1="196.5" y1="521.24" x2="991.0" y2="521.24" stroke="#8a93a2" stroke-width="1" stroke-dasharray="11.7 11.92"/>
<line x1="196.5" y1="384.71" x2="991.0" y2="384.71" stroke="#8a93a2" stroke-width="1" stroke-dasharray="11.7 11.92"/>
<line x1="196.5" y1="248.18" x2="991.0" y2="248.18" stroke="#8a93a2" stroke-width="1" stroke-dasharray="11.7 11.92"/>
<line x1="196.5" y1="111.65" x2="991.0" y2="111.65" stroke="#8a93a2" stroke-width="1" stroke-dasharray="11.7 11.92"/>
<path d="M196.5 616.81h8.1M991.0 616.81h-8.1M196.5 603.16h8.1M991.0 603.16h-8.1M196.5 589.50h8.1M991.0 589.50h-8.1M196.5 575.85h8.1M991.0 575.85h-8.1M196.5 562.20h8.1M991.0 562.20h-8.1M196.5 548.54h8.1M991.0 548.54h-8.1M196.5 534.89h8.1M991.0 534.89h-8.1M196.5 521.24h15.9M991.0 521.24h-15.9M196.5 507.58h8.1M991.0 507.58h-8.1M196.5 493.93h8.1M991.0 493.93h-8.1M196.5 480.28h8.1M991.0 480.28h-8.1M196.5 466.63h8.1M991.0 466.63h-8.1M196.5 452.97h8.1M991.0 452.97h-8.1M196.5 439.32h8.1M991.0 439.32h-8.1M196.5 425.67h8.1M991.0 425.67h-8.1M196.5 412.01h8.1M991.0 412.01h-8.1M196.5 398.36h8.1M991.0 398.36h-8.1M196.5 384.71h15.9M991.0 384.71h-15.9M196.5 371.05h8.1M991.0 371.05h-8.1M196.5 357.40h8.1M991.0 357.40h-8.1M196.5 343.75h8.1M991.0 343.75h-8.1M196.5 330.10h8.1M991.0 330.10h-8.1M196.5 316.44h8.1M991.0 316.44h-8.1M196.5 302.79h8.1M991.0 302.79h-8.1M196.5 289.14h8.1M991.0 289.14h-8.1M196.5 275.48h8.1M991.0 275.48h-8.1M196.5 261.83h8.1M991.0 261.83h-8.1M196.5 248.18h15.9M991.0 248.18h-15.9M196.5 234.52h8.1M991.0 234.52h-8.1M196.5 220.87h8.1M991.0 220.87h-8.1M196.5 207.22h8.1M991.0 207.22h-8.1M196.5 193.57h8.1M991.0 193.57h-8.1M196.5 179.91h8.1M991.0 179.91h-8.1M196.5 166.26h8.1M991.0 166.26h-8.1M196.5 152.61h8.1M991.0 152.61h-8.1M196.5 138.95h8.1M991.0 138.95h-8.1M196.5 125.30h8.1M991.0 125.30h-8.1M196.5 111.65h15.9M991.0 111.65h-15.9M196.5 97.99h8.1M991.0 97.99h-8.1M196.5 84.34h8.1M991.0 84.34h-8.1M196.5 70.69h8.1M991.0 70.69h-8.1M225.06 625.4v-5.6M225.06 62.5v5.6M253.43 625.4v-5.6M253.43 62.5v5.6M281.80 625.4v-5.6M281.80 62.5v5.6M310.17 625.4v-11.2M310.17 62.5v11.2M338.54 625.4v-5.6M338.54 62.5v5.6M366.91 625.4v-5.6M366.91 62.5v5.6M395.28 625.4v-5.6M395.28 62.5v5.6M423.65 625.4v-5.6M423.65 62.5v5.6M452.02 625.4v-11.2M452.02 62.5v11.2M480.39 625.4v-5.6M480.39 62.5v5.6M508.76 625.4v-5.6M508.76 62.5v5.6M537.13 625.4v-5.6M537.13 62.5v5.6M565.50 625.4v-5.6M565.50 62.5v5.6M593.87 625.4v-11.2M593.87 62.5v11.2M622.24 625.4v-5.6M622.24 62.5v5.6M650.61 625.4v-5.6M650.61 62.5v5.6M678.98 625.4v-5.6M678.98 62.5v5.6M707.35 625.4v-5.6M707.35 62.5v5.6M735.72 625.4v-11.2M735.72 62.5v11.2M764.09 625.4v-5.6M764.09 62.5v5.6M792.46 625.4v-5.6M792.46 62.5v5.6M820.83 625.4v-5.6M820.83 62.5v5.6M849.20 625.4v-5.6M849.20 62.5v5.6M877.57 625.4v-11.2M877.57 62.5v11.2M905.94 625.4v-5.6M905.94 62.5v5.6M934.31 625.4v-5.6M934.31 62.5v5.6M962.68 625.4v-5.6M962.68 62.5v5.6" stroke="#000" stroke-opacity="0.68" stroke-width="1.05" fill="none"/>
<path d="M196.5 625.4v-5.6M196.5 62.5v5.6" stroke="#000" stroke-opacity="0.68" stroke-width="1.05" fill="none"/>
<path d="M991.0 625.4v-5.6M991.0 62.5v5.6" stroke="#000" stroke-opacity="0.68" stroke-width="1.05" fill="none"/>
<path d="M196.0 62.5H991.5" stroke="#000" stroke-opacity="0.68" stroke-width="1.05" fill="none"/>
<path d="M196.0 625.4H991.5" stroke="#000" stroke-opacity="0.68" stroke-width="1.05" fill="none"/>
<path d="M196.5 62.0V625.9" stroke="#000" stroke-opacity="0.68" stroke-width="1.05" fill="none"/>
<path d="M991.0 62.0V625.9" stroke="#000" stroke-opacity="0.68" stroke-width="1.05" fill="none"/>
<path d="M156.78 104.44L156.78 124.20M157.82 102.36L157.82 124.20M157.82 102.36L146.38 117.96L163.02 117.96M153.66 124.20L160.94 124.20M174.46 102.36L171.34 103.40L169.26 106.52L168.22 111.72L168.22 114.84L169.26 120.04L171.34 123.16L174.46 124.20L176.54 124.20L179.66 123.16L181.74 120.04L182.78 114.84L182.78 111.72L181.74 106.52L179.66 103.40L176.54 102.36L174.46 102.36M174.46 102.36L172.38 103.40L171.34 104.44L170.30 106.52L169.26 111.72L169.26 114.84L170.30 120.04L171.34 122.12L172.38 123.16L174.46 124.20M176.54 124.20L178.62 123.16L179.66 122.12L180.70 120.04L181.74 114.84L181.74 111.72L180.70 106.52L179.66 104.44L178.62 103.40L176.54 102.36" fill="none" stroke="#3a3a3a" stroke-width="1.15" stroke-linecap="round" stroke-linejoin="round"/>
<path d="M148.46 243.05L149.50 244.09L148.46 245.13L147.42 244.09L147.42 243.05L148.46 240.97L149.50 239.93L152.62 238.89L156.78 238.89L159.90 239.93L160.94 242.01L160.94 245.13L159.90 247.21L156.78 248.25L153.66 248.25M156.78 238.89L158.86 239.93L159.90 242.01L159.90 245.13L158.86 247.21L156.78 248.25M156.78 248.25L158.86 249.29L160.94 251.37L161.98 253.45L161.98 256.57L160.94 258.65L159.90 259.69L156.78 260.73L152.62 260.73L149.50 259.69L148.46 258.65L147.42 256.57L147.42 255.53L148.46 254.49L149.50 255.53L148.46 256.57M159.90 250.33L160.94 253.45L160.94 256.57L159.90 258.65L158.86 259.69L156.78 260.73M174.46 238.89L171.34 239.93L169.26 243.05L168.22 248.25L168.22 251.37L169.26 256.57L171.34 259.69L174.46 260.73L176.54 260.73L179.66 259.69L181.74 256.57L182.78 251.37L182.78 248.25L181.74 243.05L179.66 239.93L176.54 238.89L174.46 238.89M174.46 238.89L172.38 239.93L171.34 240.97L170.30 243.05L169.26 248.25L169.26 251.37L170.30 256.57L171.34 258.65L172.38 259.69L174.46 260.73M176.54 260.73L178.62 259.69L179.66 258.65L180.70 256.57L181.74 251.37L181.74 248.25L180.70 243.05L179.66 240.97L178.62 239.93L176.54 238.89" fill="none" stroke="#3a3a3a" stroke-width="1.15" stroke-linecap="round" stroke-linejoin="round"/>
<path d="M148.46 379.58L149.50 380.62L148.46 381.66L147.42 380.62L147.42 379.58L148.46 377.50L149.50 376.46L152.62 375.42L156.78 375.42L159.90 376.46L160.94 377.50L161.98 379.58L161.98 381.66L160.94 383.74L157.82 385.82L152.62 387.90L150.54 388.94L148.46 391.02L147.42 394.14L147.42 397.26M156.78 375.42L158.86 376.46L159.90 377.50L160.94 379.58L160.94 381.66L159.90 383.74L156.78 385.82L152.62 387.90M147.42 395.18L148.46 394.14L150.54 394.14L155.74 396.22L158.86 396.22L160.94 395.18L161.98 394.14M150.54 394.14L155.74 397.26L159.90 397.26L160.94 396.22L161.98 394.14L161.98 392.06M174.46 375.42L171.34 376.46L169.26 379.58L168.22 384.78L168.22 387.90L169.26 393.10L171.34 396.22L174.46 397.26L176.54 397.26L179.66 396.22L181.74 393.10L182.78 387.90L182.78 384.78L181.74 379.58L179.66 376.46L176.54 375.42L174.46 375.42M174.46 375.42L172.38 376.46L171.34 377.50L170.30 379.58L169.26 384.78L169.26 387.90L170.30 393.10L171.34 395.18L172.38 396.22L174.46 397.26M176.54 397.26L178.62 396.22L179.66 395.18L180.70 393.10L181.74 387.90L181.74 384.78L180.70 379.58L179.66 377.50L178.62 376.46L176.54 375.42" fill="none" stroke="#3a3a3a" stroke-width="1.15" stroke-linecap="round" stroke-linejoin="round"/>
<path d="M155.22 512.36L155.22 533.58" fill="none" stroke="#8a8a8a" stroke-width="2.60" stroke-linecap="butt"/>
<path d="M151.32 533.79L159.12 533.79" fill="none" stroke="#8e8e8e" stroke-width="1.25" stroke-linecap="butt"/>
<path d="M151.27 516.11L153.24 514.86L155.74 511.95M174.46 511.95L171.34 512.99L169.26 516.11L168.22 521.31L168.22 524.43L169.26 529.63L171.34 532.75L174.46 533.79L176.54 533.79L179.66 532.75L181.74 529.63L182.78 524.43L182.78 521.31L181.74 516.11L179.66 512.99L176.54 511.95L174.46 511.95M174.46 511.95L172.38 512.99L171.34 514.03L170.30 516.11L169.26 521.31L169.26 524.43L170.30 529.63L171.34 531.71L172.38 532.75L174.46 533.79M176.54 533.79L178.62 532.75L179.66 531.71L180.70 529.63L181.74 524.43L181.74 521.31L180.70 516.11L179.66 514.03L178.62 512.99L176.54 511.95" fill="none" stroke="#3a3a3a" stroke-width="1.15" stroke-linecap="round" stroke-linejoin="round"/>
<path d="M278.49 650.68L278.49 671.89" fill="none" stroke="#8a8a8a" stroke-width="2.60" stroke-linecap="butt"/>
<path d="M274.59 672.10L282.39 672.10" fill="none" stroke="#8e8e8e" stroke-width="1.25" stroke-linecap="butt"/>
<path d="M274.54 654.42L276.51 653.17L279.01 650.26M305.01 657.54L303.97 660.66L301.89 662.74L298.77 663.78L297.73 663.78L294.61 662.74L292.53 660.66L291.49 657.54L291.49 656.50L292.53 653.38L294.61 651.30L297.73 650.26L299.81 650.26L302.93 651.30L305.01 653.38L306.05 656.50L306.05 662.74L305.01 666.90L303.97 668.98L301.89 671.06L298.77 672.10L295.65 672.10L293.57 671.06L292.53 668.98L292.53 667.94L293.57 666.90L294.61 667.94L293.57 668.98M297.73 663.78L295.65 662.74L293.57 660.66L292.53 657.54L292.53 656.50L293.57 653.38L295.65 651.30L297.73 650.26M299.81 650.26L301.89 651.30L303.97 653.38L305.01 656.50L305.01 662.74L303.97 666.90L302.93 668.98L300.85 671.06L298.77 672.10M325.81 657.54L324.77 660.66L322.69 662.74L319.57 663.78L318.53 663.78L315.41 662.74L313.33 660.66L312.29 657.54L312.29 656.50L313.33 653.38L315.41 651.30L318.53 650.26L320.61 650.26L323.73 651.30L325.81 653.38L326.85 656.50L326.85 662.74L325.81 666.90L324.77 668.98L322.69 671.06L319.57 672.10L316.45 672.10L314.37 671.06L313.33 668.98L313.33 667.94L314.37 666.90L315.41 667.94L314.37 668.98M318.53 663.78L316.45 662.74L314.37 660.66L313.33 657.54L313.33 656.50L314.37 653.38L316.45 651.30L318.53 650.26M320.61 650.26L322.69 651.30L324.77 653.38L325.81 656.50L325.81 662.74L324.77 666.90L323.73 668.98L321.65 671.06L319.57 672.10M335.17 650.26L333.09 660.66L335.17 658.58L338.29 657.54L341.41 657.54L344.53 658.58L346.61 660.66L347.65 663.78L347.65 665.86L346.61 668.98L344.53 671.06L341.41 672.10L338.29 672.10L335.17 671.06L334.13 670.02L333.09 667.94L333.09 666.90L334.13 665.86L335.17 666.90L334.13 667.94M341.41 657.54L343.49 658.58L345.57 660.66L346.61 663.78L346.61 665.86L345.57 668.98L343.49 671.06L341.41 672.10M335.17 650.26L345.57 650.26M335.17 651.30L340.37 651.30L345.57 650.26" fill="none" stroke="#3a3a3a" stroke-width="1.15" stroke-linecap="round" stroke-linejoin="round"/>
<path d="M413.58 654.42L414.62 655.46L413.58 656.50L412.54 655.46L412.54 654.42L413.58 652.34L414.62 651.30L417.74 650.26L421.90 650.26L425.02 651.30L426.06 652.34L427.10 654.42L427.10 656.50L426.06 658.58L422.94 660.66L417.74 662.74L415.66 663.78L413.58 665.86L412.54 668.98L412.54 672.10M421.90 650.26L423.98 651.30L425.02 652.34L426.06 654.42L426.06 656.50L425.02 658.58L421.90 660.66L417.74 662.74M412.54 670.02L413.58 668.98L415.66 668.98L420.86 671.06L423.98 671.06L426.06 670.02L427.10 668.98M415.66 668.98L420.86 672.10L425.02 672.10L426.06 671.06L427.10 668.98L427.10 666.90M439.58 650.26L436.46 651.30L434.38 654.42L433.34 659.62L433.34 662.74L434.38 667.94L436.46 671.06L439.58 672.10L441.66 672.10L444.78 671.06L446.86 667.94L447.90 662.74L447.90 659.62L446.86 654.42L444.78 651.30L441.66 650.26L439.58 650.26M439.58 650.26L437.50 651.30L436.46 652.34L435.42 654.42L434.38 659.62L434.38 662.74L435.42 667.94L436.46 670.02L437.50 671.06L439.58 672.10M441.66 672.10L443.74 671.06L444.78 670.02L445.82 667.94L446.86 662.74L446.86 659.62L445.82 654.42L444.78 652.34L443.74 651.30L441.66 650.26M460.38 650.26L457.26 651.30L455.18 654.42L454.14 659.62L454.14 662.74L455.18 667.94L457.26 671.06L460.38 672.10L462.46 672.10L465.58 671.06L467.66 667.94L468.70 662.74L468.70 659.62L467.66 654.42L465.58 651.30L462.46 650.26L460.38 650.26M460.38 650.26L458.30 651.30L457.26 652.34L456.22 654.42L455.18 659.62L455.18 662.74L456.22 667.94L457.26 670.02L458.30 671.06L460.38 672.10M462.46 672.10L464.54 671.06L465.58 670.02L466.62 667.94L467.66 662.74L467.66 659.62L466.62 654.42L465.58 652.34L464.54 651.30L462.46 650.26M481.18 650.26L478.06 651.30L475.98 654.42L474.94 659.62L474.94 662.74L475.98 667.94L478.06 671.06L481.18 672.10L483.26 672.10L486.38 671.06L488.46 667.94L489.50 662.74L489.50 659.62L488.46 654.42L486.38 651.30L483.26 650.26L481.18 650.26M481.18 650.26L479.10 651.30L478.06 652.34L477.02 654.42L475.98 659.62L475.98 662.74L477.02 667.94L478.06 670.02L479.10 671.06L481.18 672.10M483.26 672.10L485.34 671.06L486.38 670.02L487.42 667.94L488.46 662.74L488.46 659.62L487.42 654.42L486.38 652.34L485.34 651.30L483.26 650.26" fill="none" stroke="#3a3a3a" stroke-width="1.15" stroke-linecap="round" stroke-linejoin="round"/>
<path d="M555.43 654.42L556.47 655.46L555.43 656.50L554.39 655.46L554.39 654.42L555.43 652.34L556.47 651.30L559.59 650.26L563.75 650.26L566.87 651.30L567.91 652.34L568.95 654.42L568.95 656.50L567.91 658.58L564.79 660.66L559.59 662.74L557.51 663.78L555.43 665.86L554.39 668.98L554.39 672.10M563.75 650.26L565.83 651.30L566.87 652.34L567.91 654.42L567.91 656.50L566.87 658.58L563.75 660.66L559.59 662.74M554.39 670.02L555.43 668.98L557.51 668.98L562.71 671.06L565.83 671.06L567.91 670.02L568.95 668.98M557.51 668.98L562.71 672.10L566.87 672.10L567.91 671.06L568.95 668.98L568.95 666.90M581.43 650.26L578.31 651.30L576.23 654.42L575.19 659.62L575.19 662.74L576.23 667.94L578.31 671.06L581.43 672.10L583.51 672.10L586.63 671.06L588.71 667.94L589.75 662.74L589.75 659.62L588.71 654.42L586.63 651.30L583.51 650.26L581.43 650.26M581.43 650.26L579.35 651.30L578.31 652.34L577.27 654.42L576.23 659.62L576.23 662.74L577.27 667.94L578.31 670.02L579.35 671.06L581.43 672.10M583.51 672.10L585.59 671.06L586.63 670.02L587.67 667.94L588.71 662.74L588.71 659.62L587.67 654.42L586.63 652.34L585.59 651.30L583.51 650.26M602.23 650.26L599.11 651.30L597.03 654.42L595.99 659.62L595.99 662.74L597.03 667.94L599.11 671.06L602.23 672.10L604.31 672.10L607.43 671.06L609.51 667.94L610.55 662.74L610.55 659.62L609.51 654.42L607.43 651.30L604.31 650.26L602.23 650.26M602.23 650.26L600.15 651.30L599.11 652.34L598.07 654.42L597.03 659.62L597.03 662.74L598.07 667.94L599.11 670.02L600.15 671.06L602.23 672.10M604.31 672.10L606.39 671.06L607.43 670.02L608.47 667.94L609.51 662.74L609.51 659.62L608.47 654.42L607.43 652.34L606.39 651.30L604.31 650.26M618.87 650.26L616.79 660.66L618.87 658.58L621.99 657.54L625.11 657.54L628.23 658.58L630.31 660.66L631.35 663.78L631.35 665.86L630.31 668.98L628.23 671.06L625.11 672.10L621.99 672.10L618.87 671.06L617.83 670.02L616.79 667.94L616.79 666.90L617.83 665.86L618.87 666.90L617.83 667.94M625.11 657.54L627.19 658.58L629.27 660.66L630.31 663.78L630.31 665.86L629.27 668.98L627.19 671.06L625.11 672.10M618.87 650.26L629.27 650.26M618.87 651.30L624.07 651.30L629.27 650.26" fill="none" stroke="#3a3a3a" stroke-width="1.15" stroke-linecap="round" stroke-linejoin="round"/>
<path d="M745.64 650.68L745.64 671.89" fill="none" stroke="#8a8a8a" stroke-width="2.60" stroke-linecap="butt"/>
<path d="M741.74 672.10L749.54 672.10" fill="none" stroke="#8e8e8e" stroke-width="1.25" stroke-linecap="butt"/>
<path d="M697.28 654.42L698.32 655.46L697.28 656.50L696.24 655.46L696.24 654.42L697.28 652.34L698.32 651.30L701.44 650.26L705.60 650.26L708.72 651.30L709.76 652.34L710.80 654.42L710.80 656.50L709.76 658.58L706.64 660.66L701.44 662.74L699.36 663.78L697.28 665.86L696.24 668.98L696.24 672.10M705.60 650.26L707.68 651.30L708.72 652.34L709.76 654.42L709.76 656.50L708.72 658.58L705.60 660.66L701.44 662.74M696.24 670.02L697.28 668.98L699.36 668.98L704.56 671.06L707.68 671.06L709.76 670.02L710.80 668.98M699.36 668.98L704.56 672.10L708.72 672.10L709.76 671.06L710.80 668.98L710.80 666.90M723.28 650.26L720.16 651.30L718.08 654.42L717.04 659.62L717.04 662.74L718.08 667.94L720.16 671.06L723.28 672.10L725.36 672.10L728.48 671.06L730.56 667.94L731.60 662.74L731.60 659.62L730.56 654.42L728.48 651.30L725.36 650.26L723.28 650.26M723.28 650.26L721.20 651.30L720.16 652.34L719.12 654.42L718.08 659.62L718.08 662.74L719.12 667.94L720.16 670.02L721.20 671.06L723.28 672.10M725.36 672.10L727.44 671.06L728.48 670.02L729.52 667.94L730.56 662.74L730.56 659.62L729.52 654.42L728.48 652.34L727.44 651.30L725.36 650.26M741.69 654.42L743.66 653.17L746.16 650.26M764.88 650.26L761.76 651.30L759.68 654.42L758.64 659.62L758.64 662.74L759.68 667.94L761.76 671.06L764.88 672.10L766.96 672.10L770.08 671.06L772.16 667.94L773.20 662.74L773.20 659.62L772.16 654.42L770.08 651.30L766.96 650.26L764.88 650.26M764.88 650.26L762.80 651.30L761.76 652.34L760.72 654.42L759.68 659.62L759.68 662.74L760.72 667.94L761.76 670.02L762.80 671.06L764.88 672.10M766.96 672.10L769.04 671.06L770.08 670.02L771.12 667.94L772.16 662.74L772.16 659.62L771.12 654.42L770.08 652.34L769.04 651.30L766.96 650.26" fill="none" stroke="#3a3a3a" stroke-width="1.15" stroke-linecap="round" stroke-linejoin="round"/>
<path d="M887.49 650.68L887.49 671.89" fill="none" stroke="#8a8a8a" stroke-width="2.60" stroke-linecap="butt"/>
<path d="M883.59 672.10L891.39 672.10" fill="none" stroke="#8e8e8e" stroke-width="1.25" stroke-linecap="butt"/>
<path d="M839.13 654.42L840.17 655.46L839.13 656.50L838.09 655.46L838.09 654.42L839.13 652.34L840.17 651.30L843.29 650.26L847.45 650.26L850.57 651.30L851.61 652.34L852.65 654.42L852.65 656.50L851.61 658.58L848.49 660.66L843.29 662.74L841.21 663.78L839.13 665.86L838.09 668.98L838.09 672.10M847.45 650.26L849.53 651.30L850.57 652.34L851.61 654.42L851.61 656.50L850.57 658.58L847.45 660.66L843.29 662.74M838.09 670.02L839.13 668.98L841.21 668.98L846.41 671.06L849.53 671.06L851.61 670.02L852.65 668.98M841.21 668.98L846.41 672.10L850.57 672.10L851.61 671.06L852.65 668.98L852.65 666.90M865.13 650.26L862.01 651.30L859.93 654.42L858.89 659.62L858.89 662.74L859.93 667.94L862.01 671.06L865.13 672.10L867.21 672.10L870.33 671.06L872.41 667.94L873.45 662.74L873.45 659.62L872.41 654.42L870.33 651.30L867.21 650.26L865.13 650.26M865.13 650.26L863.05 651.30L862.01 652.34L860.97 654.42L859.93 659.62L859.93 662.74L860.97 667.94L862.01 670.02L863.05 671.06L865.13 672.10M867.21 672.10L869.29 671.06L870.33 670.02L871.37 667.94L872.41 662.74L872.41 659.62L871.37 654.42L870.33 652.34L869.29 651.30L867.21 650.26M883.54 654.42L885.51 653.17L888.01 650.26M902.57 650.26L900.49 660.66L902.57 658.58L905.69 657.54L908.81 657.54L911.93 658.58L914.01 660.66L915.05 663.78L915.05 665.86L914.01 668.98L911.93 671.06L908.81 672.10L905.69 672.10L902.57 671.06L901.53 670.02L900.49 667.94L900.49 666.90L901.53 665.86L902.57 666.90L901.53 667.94M908.81 657.54L910.89 658.58L912.97 660.66L914.01 663.78L914.01 665.86L912.97 668.98L910.89 671.06L908.81 672.10M902.57 650.26L912.97 650.26M902.57 651.30L907.77 651.30L912.97 650.26" fill="none" stroke="#3a3a3a" stroke-width="1.15" stroke-linecap="round" stroke-linejoin="round"/>
<path d="M598.10 702.10L598.10 711.80" fill="none" stroke="#858585" stroke-width="2.40" stroke-linecap="butt"/>
<path d="M571.00 691.10L564.00 712.10M571.00 691.10L578.00 712.10M571.00 694.10L577.00 712.10M566.00 706.10L575.00 706.10M562.00 712.10L568.00 712.10M574.00 712.10L580.00 712.10M586.60 698.10L586.60 712.10M587.60 698.10L587.60 712.10M587.60 701.10L589.60 699.10L592.60 698.10L594.60 698.10L597.60 699.10L598.60 701.10L598.60 702.60M594.60 698.10L596.60 699.10L597.60 701.10L597.60 702.60M583.60 698.10L587.60 698.10M583.60 712.10L590.60 712.10M594.60 712.10L601.60 712.10M583.90 691.60L584.80 689.50L586.20 688.40L587.60 688.50L589.60 689.80L591.60 691.50L593.10 692.20L594.60 691.70L595.80 690.50L596.50 688.80M613.50 698.10L610.50 699.10L608.50 701.10L607.50 704.10L607.50 706.10L608.50 709.10L610.50 711.10L613.50 712.10L615.50 712.10L618.50 711.10L620.50 709.10L621.50 706.10L621.50 704.10L620.50 701.10L618.50 699.10L615.50 698.10L613.50 698.10M613.50 698.10L611.50 699.10L609.50 701.10L608.50 704.10L608.50 706.10L609.50 709.10L611.50 711.10L613.50 712.10M615.50 712.10L617.50 711.10L619.50 709.10L620.50 706.10L620.50 704.10L619.50 701.10L617.50 699.10L615.50 698.10" fill="none" stroke="#3a3a3a" stroke-width="1.15" stroke-linecap="round" stroke-linejoin="round"/>
<path d="M237.36 74.32L237.36 96.40L236.53 100.54L234.60 102.47L231.84 103.30L229.08 103.02L227.15 101.64L226.04 99.16L226.60 96.68L227.98 95.85L228.94 96.68L228.39 97.78L227.42 97.50M235.98 74.32L235.98 96.40L235.29 100.13L233.77 102.33M232.39 74.32L241.78 74.32M251.00 83.98L251.00 99.16L252.38 101.92L256.52 103.30L259.28 103.30L263.42 101.92L266.18 99.16M252.38 83.98L252.38 99.16L253.76 101.92L256.52 103.30M266.18 83.98L266.18 103.30M267.56 83.98L267.56 103.30M247.55 83.98L252.38 83.98M262.73 83.98L267.56 83.98M266.18 103.30L271.15 103.30M281.80 74.32L281.80 103.30M283.18 74.32L283.18 103.30M278.07 74.32L283.18 74.32M278.07 103.30L286.35 103.30M296.70 74.32L295.32 75.70L296.70 77.08L298.08 75.70L296.70 74.32M296.70 83.98L296.70 103.30M298.08 83.98L298.08 103.30M293.39 83.98L298.08 83.98M293.39 103.30L301.25 103.30M317.52 83.98L313.38 85.36L310.62 88.12L309.24 92.26L309.24 95.02L310.62 99.16L313.38 101.92L317.52 103.30L320.28 103.30L324.42 101.92L327.18 99.16L328.56 95.02L328.56 92.26L327.18 88.12L324.42 85.36L320.28 83.98L317.52 83.98M317.52 83.98L314.76 85.36L312.00 88.12L310.62 92.26L310.62 95.02L312.00 99.16L314.76 101.92L317.52 103.30M320.28 103.30L323.04 101.92L325.80 99.16L327.18 95.02L327.18 92.26L325.80 88.12L323.04 85.36L320.28 83.98" fill="none" stroke="#3a3a3a" stroke-width="1.1" stroke-linecap="round" stroke-linejoin="round"/>
<path d="M823.25 87.90L824.15 88.80L823.25 89.70L822.35 88.80L822.35 87.90L823.25 86.10L824.15 85.20L826.85 84.30L830.45 84.30L833.15 85.20L834.05 87.00L834.05 89.70L833.15 91.50L830.45 92.40L827.75 92.40M830.45 84.30L832.25 85.20L833.15 87.00L833.15 89.70L832.25 91.50L830.45 92.40M830.45 92.40L832.25 93.30L834.05 95.10L834.95 96.90L834.95 99.60L834.05 101.40L833.15 102.30L830.45 103.20L826.85 103.20L824.15 102.30L823.25 101.40L822.35 99.60L822.35 98.70L823.25 97.80L824.15 98.70L823.25 99.60M833.15 94.20L834.05 96.90L834.05 99.60L833.15 101.40L832.25 102.30L830.45 103.20M844.85 84.30L842.15 85.20L841.25 87.00L841.25 89.70L842.15 91.50L844.85 92.40L848.45 92.40L851.15 91.50L852.05 89.70L852.05 87.00L851.15 85.20L848.45 84.30L844.85 84.30M844.85 84.30L843.05 85.20L842.15 87.00L842.15 89.70L843.05 91.50L844.85 92.40M848.45 92.40L850.25 91.50L851.15 89.70L851.15 87.00L850.25 85.20L848.45 84.30M844.85 92.40L842.15 93.30L841.25 94.20L840.35 96.00L840.35 99.60L841.25 101.40L842.15 102.30L844.85 103.20L848.45 103.20L851.15 102.30L852.05 101.40L852.95 99.60L852.95 96.00L852.05 94.20L851.15 93.30L848.45 92.40M844.85 92.40L843.05 93.30L842.15 94.20L841.25 96.00L841.25 99.60L842.15 101.40L843.05 102.30L844.85 103.20M848.45 103.20L850.25 102.30L851.15 101.40L852.05 99.60L852.05 96.00L851.15 94.20L850.25 93.30L848.45 92.40M860.15 101.94L859.61 102.57L860.15 103.20L860.69 102.57L860.15 101.94M878.15 87.00L877.25 87.90L878.15 88.80L879.05 87.90L879.05 87.00L878.15 85.20L876.35 84.30L873.65 84.30L870.95 85.20L869.15 87.00L868.25 88.80L867.35 92.40L867.35 97.80L868.25 100.50L870.05 102.30L872.75 103.20L874.55 103.20L877.25 102.30L879.05 100.50L879.95 97.80L879.95 96.90L879.05 94.20L877.25 92.40L874.55 91.50L872.75 91.50L870.95 92.40L869.15 94.20L868.25 96.90M873.65 84.30L871.85 85.20L870.05 87.00L869.15 88.80L868.25 92.40L868.25 97.80L869.15 100.50L870.95 102.30L872.75 103.20M874.55 103.20L876.35 102.30L878.15 100.50L879.05 97.80L879.05 96.90L878.15 94.20L876.35 92.40L874.55 91.50M890.75 84.30L888.05 85.20L886.25 87.90L885.35 92.40L885.35 95.10L886.25 99.60L888.05 102.30L890.75 103.20L892.55 103.20L895.25 102.30L897.05 99.60L897.95 95.10L897.95 92.40L897.05 87.90L895.25 85.20L892.55 84.30L890.75 84.30M890.75 84.30L888.95 85.20L888.05 86.10L887.15 87.90L886.25 92.40L886.25 95.10L887.15 99.60L888.05 101.40L888.95 102.30L890.75 103.20M892.55 103.20L894.35 102.30L895.25 101.40L896.15 99.60L897.05 95.10L897.05 92.40L896.15 87.90L895.25 86.10L894.35 85.20L892.55 84.30M908.75 84.30L906.05 85.20L904.25 87.90L903.35 92.40L903.35 95.10L904.25 99.60L906.05 102.30L908.75 103.20L910.55 103.20L913.25 102.30L915.05 99.60L915.95 95.10L915.95 92.40L915.05 87.90L913.25 85.20L910.55 84.30L908.75 84.30M908.75 84.30L906.95 85.20L906.05 86.10L905.15 87.90L904.25 92.40L904.25 95.10L905.15 99.60L906.05 101.40L906.95 102.30L908.75 103.20M910.55 103.20L912.35 102.30L913.25 101.40L914.15 99.60L915.05 95.10L915.05 92.40L914.15 87.90L913.25 86.10L912.35 85.20L910.55 84.30M926.75 84.30L924.05 85.20L922.25 87.90L921.35 92.40L921.35 95.10L922.25 99.60L924.05 102.30L926.75 103.20L928.55 103.20L931.25 102.30L933.05 99.60L933.95 95.10L933.95 92.40L933.05 87.90L931.25 85.20L928.55 84.30L926.75 84.30M926.75 84.30L924.95 85.20L924.05 86.10L923.15 87.90L922.25 92.40L922.25 95.10L923.15 99.60L924.05 101.40L924.95 102.30L926.75 103.20M928.55 103.20L930.35 102.30L931.25 101.40L932.15 99.60L933.05 95.10L933.05 92.40L932.15 87.90L931.25 86.10L930.35 85.20L928.55 84.30" fill="none" stroke="#3a3a3a" stroke-width="1.0" stroke-linecap="round" stroke-linejoin="round"/>
<path d="M459.57 579.00L459.57 584.40M459.57 582.60L460.20 580.80L461.55 579.00L463.35 579.00L467.85 581.70L469.65 581.70L470.55 580.80L471.45 579.00M459.75 580.80L461.55 579.90L463.35 579.90L467.85 581.70M471.45 579.00L471.45 581.70L470.55 584.40L466.95 588.90L466.05 590.70L465.15 593.40L465.15 597.00M470.55 584.40L466.05 588.90L465.15 590.70L464.25 593.40L464.25 597.00M478.65 596.64L478.11 597.27L478.65 597.90L479.19 597.27L478.65 596.64M493.95 580.80L493.95 597.90M494.85 579.00L494.85 597.90M494.85 579.00L484.95 592.50L499.35 592.50M491.25 597.90L497.55 597.90M509.25 579.00L506.55 579.90L504.75 582.60L503.85 587.10L503.85 589.80L504.75 594.30L506.55 597.00L509.25 597.90L511.05 597.90L513.75 597.00L515.55 594.30L516.45 589.80L516.45 587.10L515.55 582.60L513.75 579.90L511.05 579.00L509.25 579.00M509.25 579.00L507.45 579.90L506.55 580.80L505.65 582.60L504.75 587.10L504.75 589.80L505.65 594.30L506.55 596.10L507.45 597.00L509.25 597.90M511.05 597.90L512.85 597.00L513.75 596.10L514.65 594.30L515.55 589.80L515.55 587.10L514.65 582.60L513.75 580.80L512.85 579.90L511.05 579.00M527.25 579.00L524.55 579.90L522.75 582.60L521.85 587.10L521.85 589.80L522.75 594.30L524.55 597.00L527.25 597.90L529.05 597.90L531.75 597.00L533.55 594.30L534.45 589.80L534.45 587.10L533.55 582.60L531.75 579.90L529.05 579.00L527.25 579.00M527.25 579.00L525.45 579.90L524.55 580.80L523.65 582.60L522.75 587.10L522.75 589.80L523.65 594.30L524.55 596.10L525.45 597.00L527.25 597.90M529.05 597.90L530.85 597.00L531.75 596.10L532.65 594.30L533.55 589.80L533.55 587.10L532.65 582.60L531.75 580.80L530.85 579.90L529.05 579.00M545.25 579.00L542.55 579.90L540.75 582.60L539.85 587.10L539.85 589.80L540.75 594.30L542.55 597.00L545.25 597.90L547.05 597.90L549.75 597.00L551.55 594.30L552.45 589.80L552.45 587.10L551.55 582.60L549.75 579.90L547.05 579.00L545.25 579.00M545.25 579.00L543.45 579.90L542.55 580.80L541.65 582.60L540.75 587.10L540.75 589.80L541.65 594.30L542.55 596.10L543.45 597.00L545.25 597.90M547.05 597.90L548.85 597.00L549.75 596.10L550.65 594.30L551.55 589.80L551.55 587.10L550.65 582.60L549.75 580.80L548.85 579.90L547.05 579.00M563.25 579.00L560.55 579.90L558.75 582.60L557.85 587.10L557.85 589.80L558.75 594.30L560.55 597.00L563.25 597.90L565.05 597.90L567.75 597.00L569.55 594.30L570.45 589.80L570.45 587.10L569.55 582.60L567.75 579.90L565.05 579.00L563.25 579.00M563.25 579.00L561.45 579.90L560.55 580.80L559.65 582.60L558.75 587.10L558.75 589.80L559.65 594.30L560.55 596.10L561.45 597.00L563.25 597.90M565.05 597.90L566.85 597.00L567.75 596.10L568.65 594.30L569.55 589.80L569.55 587.10L568.65 582.60L567.75 580.80L566.85 579.90L565.05 579.00" fill="none" stroke="#3a3a3a" stroke-width="1.0" stroke-linecap="round" stroke-linejoin="round"/>
<path d="M94.72 385.10L115.30 385.10M94.72 384.12L115.30 384.12M94.72 390.98L100.60 391.96M94.72 391.96L94.72 377.26M94.72 377.26L100.60 378.24M115.30 388.04L115.30 381.18M90.02 353.98L123.73 353.98M90.02 353.00L123.73 353.00M90.02 353.98L90.02 347.12M123.73 353.98L123.73 347.12M95.70 332.73L94.05 333.05L92.65 333.99L91.71 335.39L91.39 337.04L91.71 338.69L92.65 340.09L94.05 341.03L95.70 341.35L97.35 341.03L98.75 340.09L99.69 338.69L100.01 337.04L99.69 335.39L98.75 333.99L97.35 333.05L95.70 332.73M97.66 313.94L100.60 312.96L94.72 312.96L97.66 313.94L95.70 315.90L94.72 318.84L94.72 320.80L95.70 323.74L97.66 325.70L99.62 326.68L102.56 327.66L107.46 327.66L110.40 326.68L112.36 325.70L114.32 323.74L115.30 320.80L115.30 318.84L114.32 315.90L112.36 313.94L110.40 312.96M94.72 320.80L95.70 322.76L97.66 324.72L99.62 325.70L102.56 326.68L107.46 326.68L110.40 325.70L112.36 324.72L114.32 322.76L115.30 320.80M90.02 299.28L123.73 299.28M90.02 298.30L123.73 298.30M90.02 305.16L90.02 298.30M123.73 305.16L123.73 298.30" fill="none" stroke="#3a3a3a" stroke-width="1.15" stroke-linecap="round" stroke-linejoin="round"/>
</svg>
</body></html>
